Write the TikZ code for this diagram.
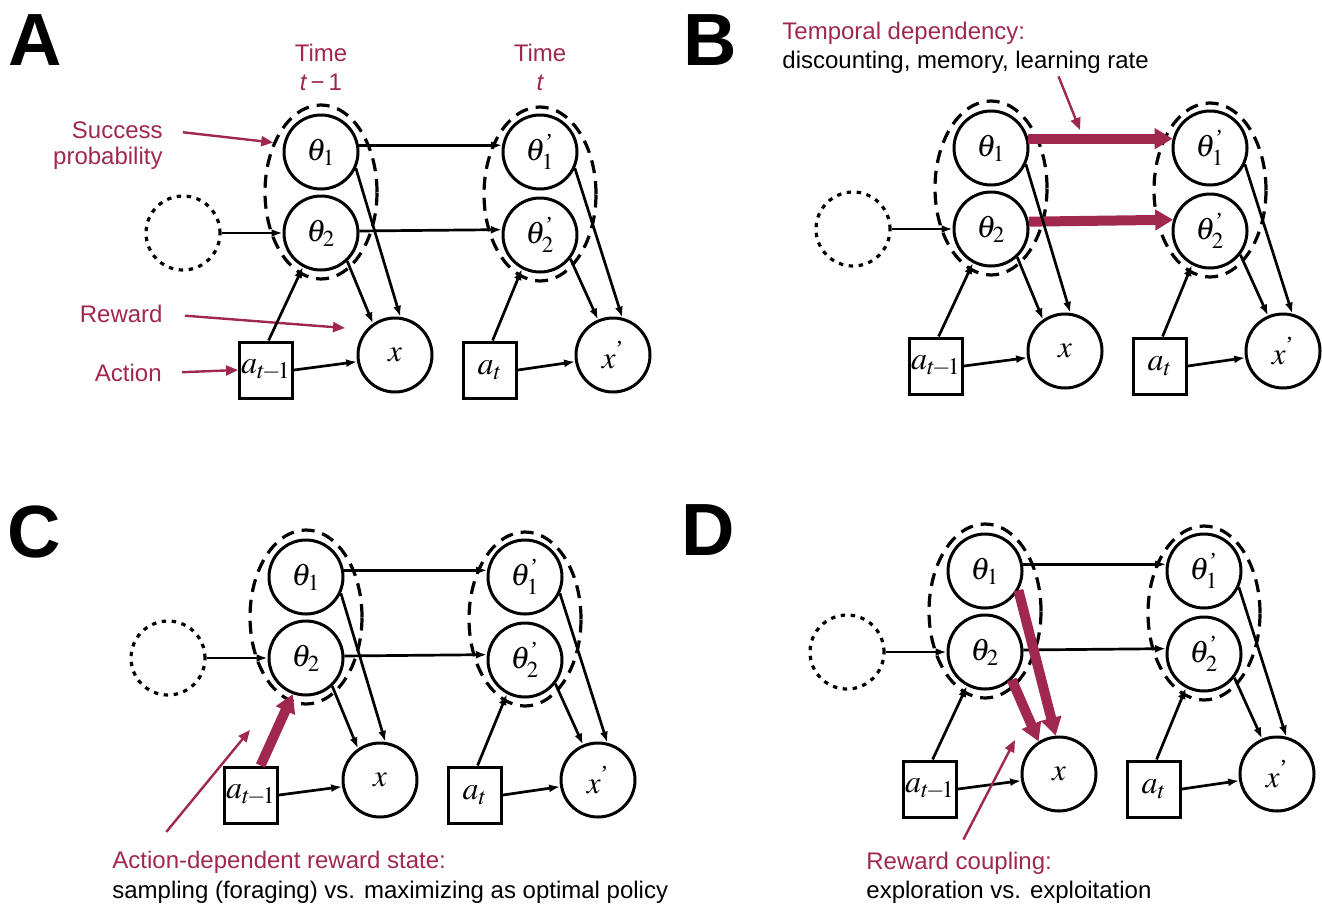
\documentclass[tikz,border=0pt]{standalone}
\usepackage{amsmath}
\usepackage{mathptmx}
\usepackage[no-math]{fontspec}
\setmainfont{Liberation Sans}
\newfontfamily\primefont{Liberation Serif}
\usetikzlibrary{arrows.meta, calc, shapes.geometric}
\definecolor{banditRed}{HTML}{A0284F}
\newcommand{\tick}{\text{\primefont ’}}

\begin{document}
\begin{tikzpicture}[x=0.5pt, y=-0.5pt,
  statenode/.style={circle, draw, fill=white, line width=1.5pt, minimum size=37pt,
              inner sep=0pt, font=\fontsize{15.5}{17}\selectfont},
  hidden/.style={circle, draw, line width=1.6pt, dash pattern=on 2.2pt off 2.8pt,
              minimum size=37pt, inner sep=0pt},
  actbox/.style={rectangle, draw, fill=white, line width=1.5pt, minimum width=26.5pt,
              minimum height=28pt, inner sep=0pt, font=\fontsize{16}{18}\selectfont},
  pairset/.style={ellipse, draw, line width=1.6pt, dash pattern=on 6.5pt off 4pt,
              minimum width=56pt, minimum height=87pt, inner sep=0pt},
  link/.style={-{Latex[length=5.5pt,width=4pt]}, line width=1.35pt},
  strong/.style={-{Triangle[length=9pt,width=10pt]}, line width=5pt, draw=banditRed},
  note/.style={-{Triangle[length=6pt,width=5pt]}, line width=1.2pt, draw=banditRed},
  redlab/.style={font=\fontsize{12}{14.5}\selectfont, text=banditRed, inner sep=0pt},
  blklab/.style={font=\fontsize{12}{14.5}\selectfont, inner sep=0pt},
  paneltag/.style={font=\fontsize{37}{37}\selectfont\bfseries},
]
\useasboundingbox (0,0) rectangle (1322,906);

% --- the same two-slice network in each of the four panels ---
\foreach \p/\dx/\dy in {A/0/0, B/670/-4, C/-15/425, D/664/419}{
  \begin{scope}[shift={(\dx,\dy)}]
    \node[pairset] (\p-e1) at (321,192) {};
    \node[pairset] (\p-e2) at (540,194) {};
    \node[statenode] (\p-th1)  at (321,152) {$\theta_1$};
    \node[statenode] (\p-th2)  at (321,233) {$\theta_2$};
    \node[statenode] (\p-th1p) at (540,152) {$\theta_1^{\tick}$};
    \node[statenode] (\p-th2p) at (540,235) {$\theta_2^{\tick}$};
    \node[hidden]    (\p-hid)  at (183,233) {};
    \node[statenode] (\p-x)    at (395,355) {$x$};
    \node[statenode] (\p-xp)   at (613,355) {$x^{\tick}$};
    \node[actbox]    (\p-a)    at (266,370) {$a_{t\!-\!1}$};
    \node[actbox]    (\p-at)   at (490,370) {$a_t$};
  \end{scope}
  \draw[link] (\p-hid.east) -- (\p-th2.west);
  \draw[link] (\p-a.east)   -- (\p-x.190);
  \draw[link] (\p-at.east)  -- (\p-xp.190);
  \draw[link] (\p-at.85)    -- (\p-th2p.-118);
  \draw[link] (\p-th1p.-25) -- (\p-xp.76);
  \draw[link] (\p-th2p.-38) -- (\p-xp.113);
}

% --- panel A: labels ---
\node[paneltag] (A-tag) at (35,40) {A};
\node[redlab, align=center] (A-time1) at (321,67) {Time\\{\itshape t}\,\char"2212\,1};
\node[redlab, align=center] (A-time2) at (540,67) {Time\\{\itshape t}};
\node[redlab, anchor=east] (A-succ) at (163,130) {Success};
\node[redlab, anchor=east] (A-prob) at (163,158) {probability};
\node[redlab, anchor=east] (A-rew)  at (163,314) {Reward};
\node[redlab, anchor=east] (A-act)  at (162,373) {Action};
\coordinate (A-rewtip) at (345,328);
\draw[note, shorten <=10pt] (A-succ.east) -- (A-e1.134);
\draw[note, shorten <=11pt] (A-rew.east) -- (A-rewtip);
\draw[note, shorten <=10pt] (A-act.east) -- (A-a.west);
\draw[link] (A-th1.10)  -- (A-th1p.170);
\draw[link] (A-th2.3)   -- (A-th2p.172);
\draw[link] (A-th1.-25) -- (A-x.82);
\draw[link] (A-th2.-47) -- (A-x.125);
\draw[link] (A-a.85)    -- (A-th2.-118);

% --- panel B: temporal dependency ---
\node[paneltag] (B-tag) at (710,40) {B};
\node[redlab, anchor=west] (B-title) at (782,33) {Temporal dependency:};
\node[blklab, anchor=west] (B-body)  at (782,62) {discounting, memory, learning rate};
\coordinate (B-memtip) at (1080,130);
\draw[note, shorten <=1.5pt] ($(B-body.south west)!0.75!(B-body.south east)$) -- (B-memtip);
\draw[strong] (B-th1.14) -- (B-th1p.166);
\draw[strong] (B-th2.11) -- (B-th2p.163);
\draw[link] (B-th1.-25) -- (B-x.82);
\draw[link] (B-th2.-47) -- (B-x.125);
\draw[link] (B-a.85)    -- (B-th2.-118);

% --- panel C: action-dependent reward state ---
\node[paneltag] (C-tag) at (34,532) {C};
\node[redlab, anchor=west] (C-title) at (112,862) {Action-dependent reward state:};
\node[blklab, anchor=west] (C-body)  at (112,892) {sampling (foraging) vs. maximizing as optimal policy};
\coordinate (C-acttip) at (250,730);
\draw[note, shorten <=12pt] ($(C-title.north west)!0.117!(C-title.north east)$) -- (C-acttip);
\draw[link] (C-th1.10)  -- (C-th1p.170);
\draw[link] (C-th2.3)   -- (C-th2p.172);
\draw[link] (C-th1.-25) -- (C-x.82);
\draw[link] (C-th2.-47) -- (C-x.125);
\draw[strong] (C-a.72)  -- (C-th2.-110);

% --- panel D: reward coupling ---
\node[paneltag] (D-tag) at (708,530) {D};
\node[redlab, anchor=west] (D-title) at (866,863) {Reward coupling:};
\node[blklab, anchor=west] (D-body)  at (866,892) {exploration vs. exploitation};
\coordinate (D-cpltip) at (1015,740);
\draw[note, shorten <=6.7pt] ($(D-title.north west)!0.49!(D-title.north east)$) -- (D-cpltip);
\draw[link] (D-th1.10)  -- (D-th1p.170);
\draw[link] (D-th2.3)   -- (D-th2p.172);
\draw[link] (D-a.85)    -- (D-th2.-118);
\draw[strong] (D-th1.-30) -- (D-x.95);
\draw[strong] (D-th2.-46) -- (D-x.122);
\end{tikzpicture}
\end{document}
